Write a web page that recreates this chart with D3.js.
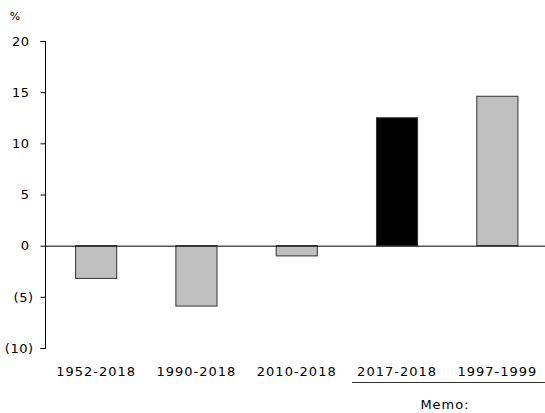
<!DOCTYPE html>
<html><head><meta charset="utf-8">
<script src="https://cdn.jsdelivr.net/npm/d3@7"></script>
<style>body{margin:0;background:#fff}text{font-family:"DejaVu Sans",sans-serif}</style>
</head><body>
<svg id="c" width="545" height="413"></svg>
<script>
const categories = ["1952-2018","1990-2018","2010-2018","2017-2018","1997-1999"];
const values = [-3.2, -5.9, -1.0, 12.5, 14.6];
const highlight = [false,false,false,true,false];
const yTicks = [20,15,10,5,0,-5,-10];
const yTickLabels = ["20","15","10","5","0","(5)","(10)"];
const unitLabel = "%";
const memoLabel = "Memo:";

const svg = d3.select("#c");
const x = d3.scaleBand().domain(categories).range([45.5, 548]).paddingInner(0.59).paddingOuter(0.3);
const y = d3.scaleLinear().domain([-10, 20]).range([348, 41]);

const yAxis = d3.axisLeft(y).tickValues(yTicks).tickSize(5).tickPadding(11)
  .tickFormat(d=>yTickLabels[yTicks.indexOf(d)]);
const g = svg.append("g").attr("transform","translate(45.5,0)").call(yAxis);
g.select(".domain").attr("d", `M-5,${y(20)+0.5}H0V${y(-10)+0.5}H-5`).attr("stroke","#000");
g.selectAll(".tick line").attr("stroke","#000");
g.selectAll(".tick text").attr("font-size",13).attr("fill","#000").attr("letter-spacing","0.5px")
  .attr("dx", d => d < 0 ? 4 : 0);

svg.selectAll("rect.bar").data(values).enter().append("rect").attr("class","bar")
  .attr("x",(d,i)=>x(categories[i]))
  .attr("width",x.bandwidth())
  .attr("y",d=>y(Math.max(0,d)))
  .attr("height",d=>Math.abs(y(d)-y(0)))
  .attr("fill",(d,i)=>highlight[i]?"#000":"#c0c0c0")
  .attr("stroke","#333").attr("stroke-width",1);

svg.append("line").attr("x1",45).attr("x2",545).attr("y1",y(0)+0.5).attr("y2",y(0)+0.5).attr("stroke","#000");

svg.selectAll("text.cat").data(categories).enter().append("text").attr("class","cat")
  .attr("x",d=>x(d)+x.bandwidth()/2).attr("y",376).attr("text-anchor","middle")
  .attr("font-size",13).attr("letter-spacing","1px").text(d=>d);

svg.append("line").attr("x1",352).attr("x2",545).attr("y1",382.5).attr("y2",382.5).attr("stroke","#333");
svg.append("text").attr("x",445).attr("y",409).attr("text-anchor","middle").attr("font-size",13).attr("letter-spacing","1px").text(memoLabel);
svg.append("text").attr("x",15).attr("y",20).attr("text-anchor","middle").attr("font-size",11).text(unitLabel);
</script>
</body></html>
